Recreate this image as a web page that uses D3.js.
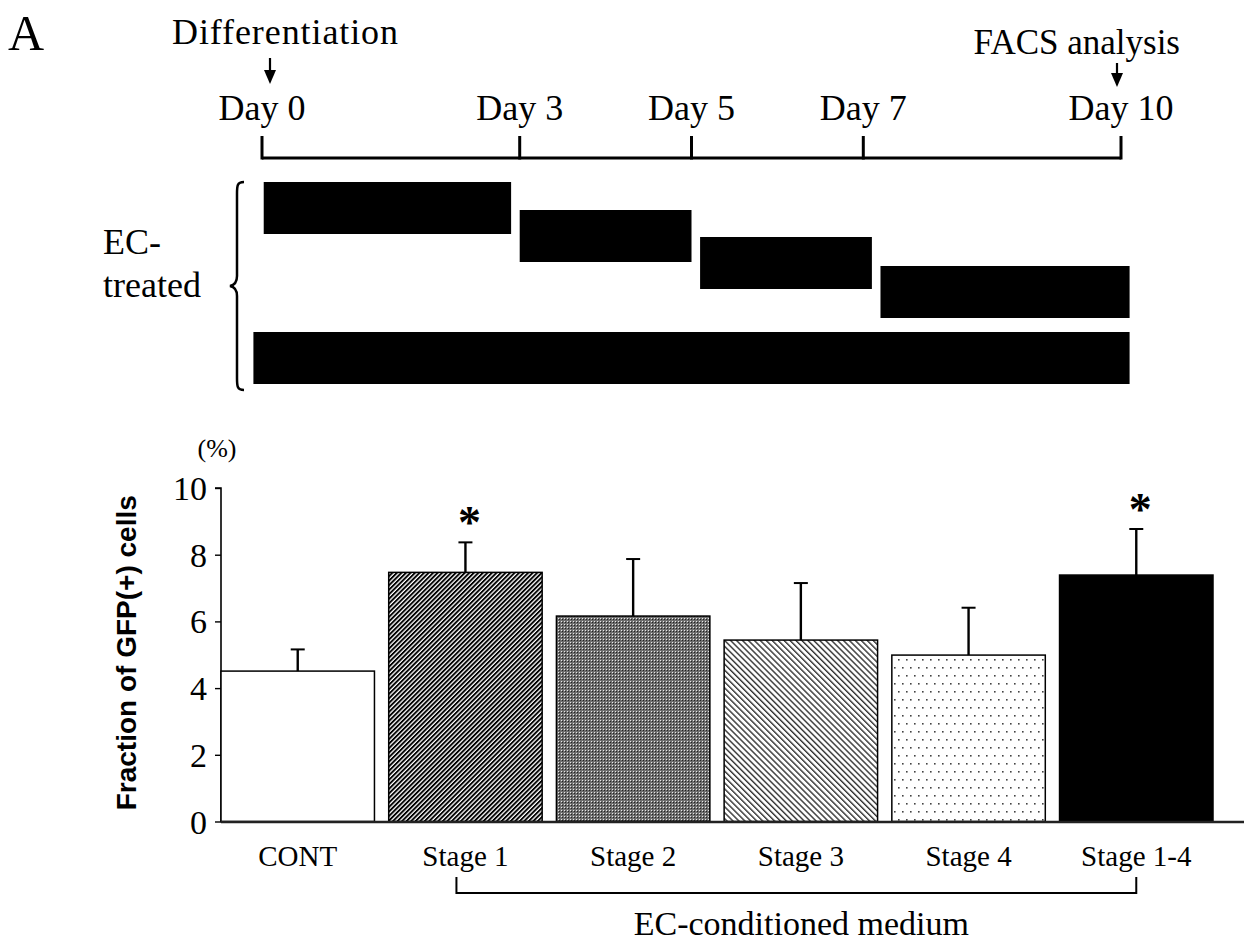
<!DOCTYPE html>
<html>
<head>
<meta charset="utf-8">
<script src="https://cdn.jsdelivr.net/npm/d3@7"></script>
<style>
  html, body { margin: 0; padding: 0; background: #fff; }
  svg { display: block; }
  .serif { font-family: "Liberation Serif", "Times New Roman", serif; fill: #000; }
</style>
</head>
<body>
<svg id="chart" width="1251" height="943"></svg>
<script>
// ---- data ----
const categories = ['CONT', 'Stage 1', 'Stage 2', 'Stage 3', 'Stage 4', 'Stage 1-4'];
const means = [4.51, 7.47, 6.16, 5.44, 4.99, 7.39];
const errors = [0.65, 0.9, 1.71, 1.71, 1.42, 1.38];
const significant = [false, true, false, false, false, true];
const fills = ['white', 'hatch-fwd', 'grey-dots', 'hatch-back', 'sparse-dots', 'black'];

const dayTicks = [0, 3, 5, 7, 10];
const treatStart = [0.02, 3.0, 5.1, 7.2, -0.1];
const treatEnd = [2.9, 5.0, 7.1, 10.1, 10.1];

const yTicks = [0, 2, 4, 6, 8, 10];

// ---- layout ----
const svg = d3.select('#chart');
const defs = svg.append('defs');

// patterns
const p1 = defs.append('pattern').attr('id', 'hatch-fwd')
  .attr('patternUnits', 'userSpaceOnUse').attr('width', 3.2).attr('height', 3.2)
  .attr('patternTransform', 'rotate(45)');
p1.append('rect').attr('width', 3.2).attr('height', 3.2).attr('fill', '#fff');
p1.append('rect').attr('width', 1.9).attr('height', 3.2).attr('fill', '#000');

const p3 = defs.append('pattern').attr('id', 'hatch-back')
  .attr('patternUnits', 'userSpaceOnUse').attr('width', 4.2).attr('height', 4.2)
  .attr('patternTransform', 'rotate(-45)');
p3.append('rect').attr('width', 4.2).attr('height', 4.2).attr('fill', '#fff');
p3.append('rect').attr('width', 1.4).attr('height', 4.2).attr('fill', '#333');

// stage 2: dark grey with a fine light dot grid
const p2 = defs.append('pattern').attr('id', 'grey-dots')
  .attr('patternUnits', 'userSpaceOnUse').attr('width', 3).attr('height', 3);
p2.append('rect').attr('width', 3).attr('height', 3).attr('fill', '#6e6e6e');
p2.append('rect').attr('width', 1).attr('height', 1).attr('fill', '#e8e8e8');
p2.append('rect').attr('x', 1).attr('y', 1).attr('width', 1).attr('height', 1).attr('fill', '#222');

const p4 = defs.append('pattern').attr('id', 'sparse-dots')
  .attr('patternUnits', 'userSpaceOnUse').attr('width', 16).attr('height', 16);
p4.append('rect').attr('width', 16).attr('height', 16).attr('fill', '#fff');
[[2, 3], [10, 3], [6, 11], [14, 11]].forEach(([x, y]) => {
  p4.append('rect').attr('x', x).attr('y', y).attr('width', 1.6).attr('height', 1.6).attr('fill', '#444');
});

const fillOf = f => (f === 'white' ? '#fff' : f === 'black' ? '#000' : `url(#${f})`);

// panel letter
svg.append('text').attr('class', 'serif').attr('x', 8).attr('y', 50)
  .attr('font-size', 50).text('A');

// ---- timeline ----
const xDay = d3.scaleLinear().domain([0, 10]).range([262, 1121]);
const lineY = 158;

svg.append('line').attr('x1', xDay(0)).attr('x2', xDay(10))
  .attr('y1', lineY).attr('y2', lineY)
  .attr('stroke', '#000').attr('stroke-width', 3);

svg.append('g').selectAll('line').data(dayTicks).join('line')
  .attr('x1', d => xDay(d)).attr('x2', d => xDay(d))
  .attr('y1', 136).attr('y2', lineY + 1.5)
  .attr('stroke', '#000').attr('stroke-width', 3);

svg.append('g').selectAll('text').data(dayTicks).join('text')
  .attr('class', 'serif')
  .attr('x', d => xDay(d)).attr('y', 120)
  .attr('text-anchor', 'middle').attr('font-size', 36)
  .text(d => `Day ${d}`);

// annotations with arrows
function arrow(x, y0, y1) {
  svg.append('line').attr('x1', x).attr('x2', x).attr('y1', y0).attr('y2', y1 - 12)
    .attr('stroke', '#000').attr('stroke-width', 2.2);
  svg.append('path')
    .attr('d', `M${x - 6},${y1 - 14} L${x + 6},${y1 - 14} L${x},${y1} Z`)
    .attr('fill', '#000');
}
svg.append('text').attr('class', 'serif').attr('x', 172).attr('y', 44)
  .attr('font-size', 36).attr('textLength', 226).text('Differentiation');
arrow(xDay(0) + 8, 58, 84);

svg.append('text').attr('class', 'serif').attr('x', 1180).attr('y', 54)
  .attr('text-anchor', 'end').attr('font-size', 35).text('FACS analysis');
arrow(xDay(10) - 4, 63, 87);

// treatment bars
const rowTop = [182, 210, 237, 266, 332];
const rowH = 52;
svg.append('g').selectAll('rect').data(treatStart).join('rect')
  .attr('x', (d, i) => xDay(d))
  .attr('y', (d, i) => rowTop[i])
  .attr('width', (d, i) => xDay(treatEnd[i]) - xDay(d))
  .attr('height', rowH)
  .attr('fill', '#000');

// brace
svg.append('path')
  .attr('d', 'M244,182 C237,182 237,186 237,194 L237,276 C237,282 235,285 230,286 C235,287 237,290 237,296 L237,378 C237,386 237,390 244,390')
  .attr('fill', 'none').attr('stroke', '#000').attr('stroke-width', 2.5);

svg.append('text').attr('class', 'serif').attr('x', 103).attr('y', 254)
  .attr('font-size', 36).text('EC-');
svg.append('text').attr('class', 'serif').attr('x', 103).attr('y', 297)
  .attr('font-size', 36).text('treated');

// ---- bar chart ----
const x = d3.scaleBand().domain(categories).range([221, 1213])
  .paddingInner(0.085).paddingOuter(0);
const y = d3.scaleLinear().domain([0, 10]).range([821.5, 488]);

// y axis
const yAxis = d3.axisLeft(y).tickValues(yTicks).tickSize(6).tickPadding(8);
const gy = svg.append('g').attr('transform', 'translate(221,0)').call(yAxis);
gy.attr('font-size', null).attr('font-family', null);
gy.select('.domain').attr('stroke-width', 1.6).attr('d', `M-6,${y(10)}H0V${y(0)}`);
gy.selectAll('.tick line').attr('stroke-width', 1.4);
gy.selectAll('.tick text')
  .style('font-family', '"Liberation Serif", "Times New Roman", serif')
  .style('font-size', '34px').attr('fill', '#000').attr('dy', '0.34em');

svg.append('text').attr('class', 'serif').attr('x', 217).attr('y', 457)
  .attr('text-anchor', 'middle').attr('font-size', 26).text('(%)');

svg.append('text')
  .attr('transform', `translate(136,${(y(0) + y(10)) / 2 - 2}) rotate(-90)`)
  .attr('text-anchor', 'middle')
  .attr('font-family', '"Liberation Sans", Arial, sans-serif')
  .attr('font-weight', 'bold').attr('font-size', 28)
  .text('Fraction of GFP(+) cells');

// bars
svg.append('g').selectAll('rect').data(categories).join('rect')
  .attr('x', d => x(d))
  .attr('y', (d, i) => y(means[i]))
  .attr('width', x.bandwidth())
  .attr('height', (d, i) => y(0) - y(means[i]))
  .attr('fill', (d, i) => fillOf(fills[i]))
  .attr('stroke', '#000').attr('stroke-width', 1.5);

// error bars
const eg = svg.append('g').attr('stroke', '#000').attr('stroke-width', 2.4);
categories.forEach((c, i) => {
  const cx = x(c) + x.bandwidth() / 2;
  eg.append('line').attr('x1', cx).attr('x2', cx)
    .attr('y1', y(means[i])).attr('y2', y(means[i] + errors[i]));
  eg.append('line').attr('x1', cx - 7).attr('x2', cx + 7)
    .attr('y1', y(means[i] + errors[i])).attr('y2', y(means[i] + errors[i]))
    .attr('stroke-width', 2);
});

// significance stars
svg.append('g').selectAll('text').data(categories.filter((c, i) => significant[i])).join('text')
  .attr('x', d => x(d) + x.bandwidth() / 2 + 4)
  .attr('y', d => { const i = categories.indexOf(d); return y(means[i] + errors[i]) - 4; })
  .attr('text-anchor', 'middle')
  .attr('font-family', '"Liberation Serif", serif').attr('font-weight', 'bold')
  .attr('font-size', 46).text('*');

// x baseline
svg.append('line').attr('x1', 221).attr('x2', 1244)
  .attr('y1', y(0) + 0.5).attr('y2', y(0) + 0.5)
  .attr('stroke', '#222').attr('stroke-width', 2.5);

// category labels
svg.append('g').selectAll('text').data(categories).join('text')
  .attr('class', 'serif')
  .attr('x', d => x(d) + x.bandwidth() / 2)
  .attr('y', 866)
  .attr('text-anchor', 'middle').attr('font-size', 29)
  .text(d => d);

// EC-conditioned bracket
const bx0 = x('Stage 1') + x.bandwidth() / 2 - 9;
const bx1 = x('Stage 1-4') + x.bandwidth() / 2;
svg.append('path')
  .attr('d', `M${bx0},877 V893 H${bx1} V877`)
  .attr('fill', 'none').attr('stroke', '#000').attr('stroke-width', 2);

svg.append('text').attr('class', 'serif')
  .attr('x', (bx0 + bx1) / 2 + 5).attr('y', 935)
  .attr('text-anchor', 'middle').attr('font-size', 34)
  .text('EC-conditioned medium');
</script>
</body>
</html>
